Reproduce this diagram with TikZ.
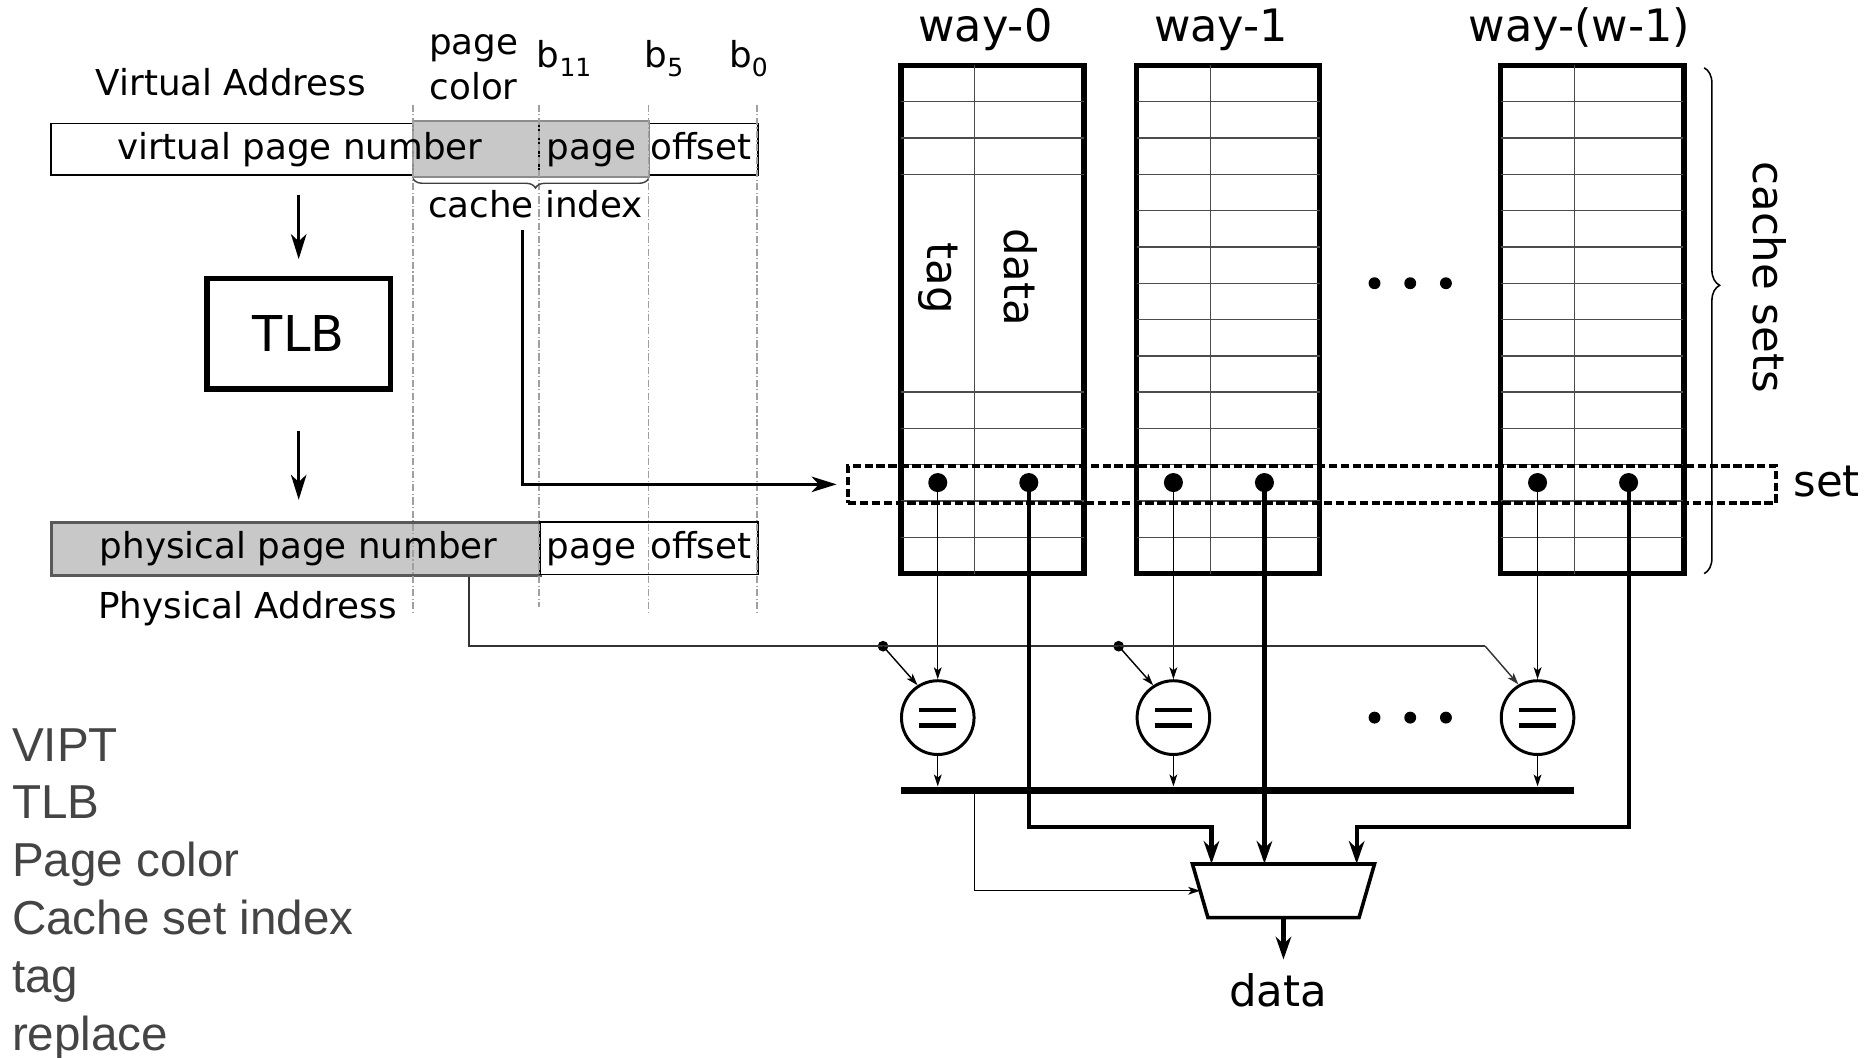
\documentclass[tikz,border=0pt]{standalone}
\usepackage{fontspec}
\setmainfont{DejaVu Sans}
\newfontfamily\listfont{Liberation Sans}
\usetikzlibrary{arrows.meta,decorations.pathreplacing,shapes.geometric,calc}
\definecolor{shade}{HTML}{C8C8C8}
\definecolor{listgray}{HTML}{444444}
\definecolor{guide}{HTML}{A0A0A0}
\newcommand\myfs[1]{\fontsize{#1}{#1}\selectfont}
\begin{document}
\begin{tikzpicture}[x=1pt,y=-1pt,
  txt/.style={inner sep=0, font=\myfs{30}},
  big/.style={inner sep=0, font=\myfs{36.5}},
  lst/.style={anchor=base west, inner sep=0, font=\listfont\myfs{40}, text=listgray},
  thickarrow/.style={line width=2.5, -{Stealth[length=21pt,width=13pt,inset=6pt]}},
  datarrow/.style={line width=3.5, -{Stealth[length=19pt,width=13pt,inset=6pt]}},
  thinarrow/.style={line width=1.2, -{Stealth[length=10pt,width=6.5pt,inset=2.5pt]}},
  tagline/.style={line width=1.3, draw=black!80},
  waybox/.style={draw, line width=4.5, minimum width=154, minimum height=427, inner sep=0},
  gridline/.style={line width=1.2, draw=black!70},
  dotn/.style={circle, fill, inner sep=0, minimum size=16},
  tapdot/.style={circle, fill, inner sep=0, minimum size=9},
  cmpn/.style={ellipse, draw, line width=2.5, minimum width=61, minimum height=62, inner sep=0},
  guideline/.style={guide, line width=1.2, dash pattern=on 6pt off 2pt on 1pt off 2pt}
]
\useasboundingbox (0,0) rectangle (1568,889);

% ---------------- virtual address ----------------
\node[txt, anchor=base] (valabel) at (194,80) {Virtual Address};
\node[draw, line width=1.5, fill=white, minimum width=594, minimum height=43, inner sep=0, anchor=north west] (vabar) at (42,103) {};
\node[fill=shade, draw=black!45, line width=1.5, minimum width=199, minimum height=47, inner sep=0, anchor=north west] (pc) at (346,101) {};
\draw[line width=2] (453,103) -- (453,146);

% ---------------- physical address ----------------
\node[fill=shade, draw=black!65, line width=2.5, minimum width=411, minimum height=44, inner sep=0, anchor=north west] (ppn) at (42,438) {};
\node[draw, line width=1.5, fill=white, minimum width=183, minimum height=44, inner sep=0, anchor=north west] (ppo) at (453,438) {};

% guide lines
\foreach \x/\b in {347/515,453/510,545/515,636/515}
  \draw[guideline] (\x,88) -- (\x,\b);

% texts on bars
\node[txt, anchor=base] (vpn) at (252,134) {virtual page number};
\node[txt, anchor=base] (vpg) at (497,134) {page};
\node[txt, anchor=base] (vof) at (589,134) {offset};
\node[txt, anchor=base] (ppnt) at (251,469) {physical page number};
\node[txt, anchor=base] (ppg) at (497,469) {page};
\node[txt, anchor=base] (pof) at (589,469) {offset};
\node[txt, anchor=base] (palabel) at (208,520) {Physical Address};

% bit labels
\node[txt, anchor=base] (pgl) at (398,46) {page};
\node[txt, anchor=base] (coll) at (398,84) {color};
\node[txt, anchor=base] (b11) at (474,57) {b\raisebox{-7pt}{\myfs{21}11}};
\node[txt, anchor=base] (b5) at (558,57) {b\raisebox{-7pt}{\myfs{21}5}};
\node[txt, anchor=base] (b0) at (629,57) {b\raisebox{-7pt}{\myfs{21}0}};

% brace + cache index
\draw[decorate, decoration={brace, mirror, amplitude=8pt, aspect=0.52}, line width=1.2, draw=black!75] (347,150) -- (545,150);
\node[txt, anchor=base] (ci) at (450,183) {cache index};

% TLB
\node[draw, line width=4.5, minimum width=154, minimum height=93, inner sep=0, font=\myfs{41.5}] (tlb) at (251,280.5) {TLB};
\draw[thickarrow, shorten <=16pt, shorten >=14pt] (vabar.south -| tlb.north) -- (tlb.north);
\draw[thickarrow, shorten <=33pt, shorten >=18pt] (tlb.south) -- (tlb.south |- ppn.north);

% ---------------- ways ----------------
\node[inner sep=0, font=\myfs{37.5}, anchor=base] (w0l) at (828,35) {way-0};
\node[inner sep=0, font=\myfs{37.5}, anchor=base] (w1l) at (1026,35) {way-1};
\node[inner sep=0, font=\myfs{37.5}, anchor=base] (w2l) at (1327,35) {way-(w-1)};

\foreach \n/\L in {0/757,1/955,2/1261}{
  \node[waybox] (way\n) at ({\L+77},268.5) {};
  \draw[gridline] ({\L+62},55) -- ({\L+62},482);
}
\foreach \k in {1,2,3,9,10,11,12,13}
  \draw[gridline] (757,{55+30.5*\k}) -- (911,{55+30.5*\k});
\foreach \k in {1,...,13}{
  \draw[gridline] (955,{55+30.5*\k}) -- (1109,{55+30.5*\k});
  \draw[gridline] (1261,{55+30.5*\k}) -- (1414,{55+30.5*\k});
}
\node[big, rotate=-90] (tagl) at (788,234) {tag};
\node[big, rotate=-90] (datal) at (858,233) {data};

% set box
\node[draw, line width=3, dash pattern=on 7pt off 3pt, minimum width=780, minimum height=31, inner sep=0, anchor=north west] (setbox) at (711,390) {};
\node[big, anchor=base] (setl) at (1535,417) {set};

% cache index arrow
\draw[thickarrow] ([xshift=-11pt,yshift=-10pt]ci.south) |- ([xshift=-8pt]setbox.west);

% dots and comparators
\foreach \n/\L in {0/757,1/955,2/1261}{
  \node[dotn] (tag\n) at ({\L+31},405.5) {};
  \node[dotn] (dat\n) at ({\L+107.5},405.5) {};
  \node[cmpn] (cmp\n) at ({\L+31},603) {};
  \draw[line width=3.8] ({\L+15.5},596.5) -- ({\L+46.5},596.5);
  \draw[line width=3.8] ({\L+15.5},609.5) -- ({\L+46.5},609.5);
  \draw[thinarrow] (tag\n.center) -- (cmp\n.north);
}

% ellipsis dots
\foreach \x in {1155,1185,1215}{
  \fill (\x,238) circle (5);
  \fill (\x,603) circle (5);
}

% right brace + cache sets
\draw[decorate, decoration={brace, amplitude=13pt, aspect=0.43}, line width=1.3] (1432,57) -- (1432,482);
\node[big, rotate=-90] (csl) at (1487,233) {cache sets};

% bus
\node[fill, minimum width=566, minimum height=6, inner sep=0] (bus) at (1040,664) {};
\foreach \n in {0,1,2}
  \draw[thinarrow] (cmp\n.south) -- (cmp\n.south |- bus.north);

% physical tag line
\node[tapdot] (tap0) at (742,543) {};
\node[tapdot] (tap1) at (940,543) {};
\coordinate (bend) at (1248,543);
\draw[tagline] ([xshift=145.5pt]ppn.south) |- (bend);
\draw[tagline, thinarrow] (bend) -- (cmp2.120);
\draw[thinarrow] (tap0.center) -- (cmp0.122);
\draw[thinarrow] (tap1.center) -- (cmp1.122);

% mux
\node[minimum width=153, minimum height=45, inner sep=0] (mux) at (1078.5,748.5) {};
\draw[line width=3] (1002,726) -- (1155,726) -- (1142,771) -- (1015,771) -- cycle;
\draw[datarrow] (dat0.center) |- ([xshift=-60.5pt,yshift=31pt]mux.north) -- ([xshift=-60.5pt]mux.north);
\draw[datarrow] (dat1.center) -- (dat1.center |- mux.north);
\draw[datarrow] (dat2.center) |- ([xshift=61.5pt,yshift=31pt]mux.north) -- ([xshift=61.5pt]mux.north);
\draw[thinarrow] ([xshift=-221pt]bus.south) |- ([xshift=-70pt]mux.center);
\draw[datarrow] (mux.south) -- ([yshift=-35pt]mux.south);
\node[big, anchor=base] (dataout) at (1074,846) {data};

% list
\node[lst] (l1) at (10,639.5) {VIPT};
\node[lst] (l2) at (10,688) {TLB};
\node[lst] (l3) at (10,736.7) {Page color};
\node[lst] (l4) at (10,785.3) {Cache set index};
\node[lst] (l5) at (10,834) {tag};
\node[lst] (l6) at (10,882.6) {replace};
\end{tikzpicture}
\end{document}
